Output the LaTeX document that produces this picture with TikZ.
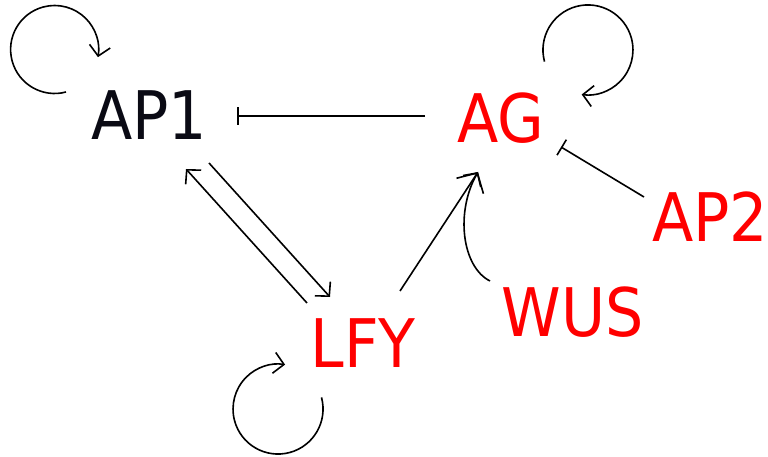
\documentclass[tikz,border=0pt]{standalone}
\usepackage{fontspec}
\setmainfont{DejaVu Sans Condensed}
\usetikzlibrary{arrows.meta,calc}
\definecolor{genered}{RGB}{255,0,0}
\definecolor{geneblack}{RGB}{10,10,20}
\tikzset{
  gene/.style={anchor=base, inner sep=0pt, font=\fontsize{67}{80}\selectfont},
  act/.style={line width=1.6pt, -{Straight Barb[length=10pt,width=21pt,line width=1.6pt]}},
  bigact/.style={line width=1.6pt, -{Straight Barb[length=15pt,width=31pt,line width=1.6pt]}},
  inh/.style={line width=1.6pt, -{Bar[width=18pt,line width=1.6pt]}},
}
\begin{document}
\begin{tikzpicture}[x=1pt,y=1pt]
\useasboundingbox (0,0) rectangle (768,457);

% genes
\node[gene, text=geneblack] (AP1) at (149,317) {AP1};
\node[gene, text=genered]   (AG)  at (501,314) {AG};
\node[gene, text=genered]   (AP2) at (710,215) {AP2};
\node[gene, text=genered]   (WUS) at (573,120) {WUS};
\node[gene, text=genered]   (LFY) at (363,89)  {LFY};

% repressions
\draw[inh] ($(AG.base)+(-76,27)$) -- ($(AP1.base)+(88,24)$);
\draw[inh] ($(AP2.base)+(-66,45)$) -- ($(AG.base)+(60,-4)$);

% activations
\draw[act] ($(AP1.base)+(60,-23)$) -- ($(LFY.base)+(-33,71)$);
\draw[act] ($(LFY.base)+(-56,65)$) -- ($(AP1.base)+(37,-29)$);
\draw[act] ($(LFY.base)+(37,77)$) -- ($(AG.base)+(-23,-29)$);
\draw[bigact] ($(WUS.base)+(-83,56)$) .. controls ($(WUS.base)+(-111,70)$) and ($(WUS.base)+(-118,125)$) .. ($(AG.base)+(-23,-29)$);

% self-activations
\draw[act] ($(AP1.base)+(-83,48)$) arc[start angle=-75, end angle=-370, radius=44];
\draw[act] ($(AG.base)+(43.5,81.4)$) arc[start angle=195, end angle=-98, radius=45];
\draw[act] ($(LFY.base)+(-41.5,-29.4)$) arc[start angle=15, end angle=-279, radius=45];
\end{tikzpicture}
\end{document}
